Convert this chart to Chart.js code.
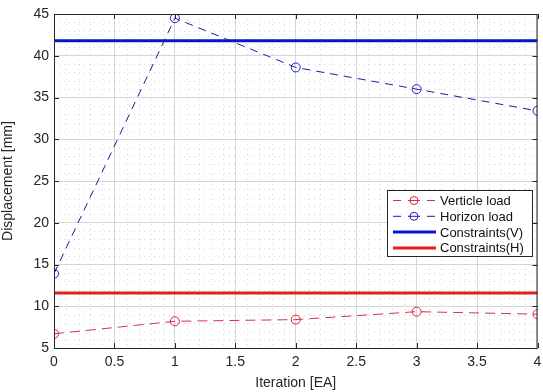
<!DOCTYPE html>
<html>
<head>
<meta charset="utf-8">
<script src="https://cdn.jsdelivr.net/npm/chart.js@4.4.1/dist/chart.umd.min.js"></script>
<style>
  html, body { margin: 0; padding: 0; background: #fff; }
  #wrap { width: 543px; height: 392px; position: relative; }
</style>
</head>
<body>
<div id="wrap"><canvas id="dispChart"></canvas></div>
<script>
const ITERATIONS = [0, 1, 2, 3, 4];
const VERTICLE_LOAD = [6.7, 8.2, 8.4, 9.35, 9.05];
const HORIZON_LOAD = [13.9, 44.5, 38.6, 36.0, 33.4];
const CONSTRAINT_V = 41.8;
const CONSTRAINT_H = 11.6;
const X_TICKS = [0, 0.5, 1, 1.5, 2, 2.5, 3, 3.5, 4];
const Y_TICKS = [5, 10, 15, 20, 25, 30, 35, 40, 45];

const toPoints = (xs, ys) => xs.map((x, i) => ({ x: x, y: ys[i] }));
const flatLine = val => [{ x: ITERATIONS[0], y: val }, { x: ITERATIONS[ITERATIONS.length - 1], y: val }];

// minor dotted grid + inward ticks + box, matlab style
const boxPlugin = {
    id: 'matlabBox',
    beforeDatasetsDraw(chart) {
        const { ctx, chartArea: a, scales: { x, y } } = chart;
        ctx.save();
        ctx.strokeStyle = 'rgba(140,140,140,0.35)';
        ctx.lineWidth = 1;
        ctx.setLineDash([1, 4]);
        for (let v = 0; v <= 40; v++) {
            if (v % 5 === 0) continue;
            const px = Math.round(x.getPixelForValue(v / 10)) + 0.5;
            ctx.beginPath(); ctx.moveTo(px, a.top); ctx.lineTo(px, a.bottom); ctx.stroke();
        }
        for (let v = 5; v <= 45; v++) {
            if (v % 5 === 0) continue;
            const py = Math.round(y.getPixelForValue(v)) + 0.5;
            ctx.beginPath(); ctx.moveTo(a.left, py); ctx.lineTo(a.right, py); ctx.stroke();
        }
        ctx.restore();
    },
    afterDraw(chart) {
        const { ctx, chartArea: a, scales: { x, y } } = chart;
        ctx.save();
        ctx.strokeStyle = '#262626';
        ctx.lineWidth = 1;
        ctx.strokeRect(a.left + 0.5, a.top + 0.5, a.right - a.left - 1, a.bottom - a.top);
        const t = 5;
        X_TICKS.forEach(v => {
            const px = Math.round(x.getPixelForValue(v)) + 0.5;
            ctx.beginPath();
            ctx.moveTo(px, a.bottom); ctx.lineTo(px, a.bottom - t);
            ctx.moveTo(px, a.top); ctx.lineTo(px, a.top + t);
            ctx.stroke();
        });
        Y_TICKS.forEach(v => {
            const py = Math.round(y.getPixelForValue(v)) + 0.5;
            ctx.beginPath();
            ctx.moveTo(a.left, py); ctx.lineTo(a.left + t, py);
            ctx.moveTo(a.right, py); ctx.lineTo(a.right - t, py);
            ctx.stroke();
        });

        // legend box
        const lx = 387, ly = 190, lw = 145, lh = 66;
        ctx.fillStyle = '#fff';
        ctx.fillRect(lx, ly, lw, lh);
        ctx.strokeStyle = '#262626';
        ctx.strokeRect(lx + 0.5, ly + 0.5, lw, lh);
        ctx.font = '13px "Liberation Sans", Arial, sans-serif';
        ctx.textBaseline = 'middle';
        chart.data.datasets.forEach((ds, i) => {
            const cy = ly + 10.5 + i * 15.8;
            ctx.strokeStyle = ds.borderColor;
            ctx.lineWidth = ds.borderWidth;
            if (ds.borderDash && ds.borderDash.length) {
                ctx.beginPath();
                ctx.moveTo(lx + 6, cy); ctx.lineTo(lx + 14, cy);
                ctx.moveTo(lx + 40, cy); ctx.lineTo(lx + 48, cy);
                ctx.moveTo(lx + 21, cy); ctx.lineTo(lx + 33, cy);
                ctx.stroke();
                ctx.beginPath();
                ctx.arc(lx + 27, cy, 4, 0, Math.PI * 2);
                ctx.strokeStyle = ds.pointBorderColor;
                ctx.stroke();
            } else {
                ctx.beginPath();
                ctx.moveTo(lx + 6, cy); ctx.lineTo(lx + 49, cy);
                ctx.stroke();
            }
            ctx.fillStyle = '#111';
            ctx.fillText(ds.label, lx + 53, cy + 1);
        });
        ctx.restore();
    }
};

new Chart(document.getElementById('dispChart').getContext('2d'), {
    type: 'scatter',
    data: {
        datasets: [
            {
                label: 'Verticle load',
                data: toPoints(ITERATIONS, VERTICLE_LOAD),
                showLine: true,
                borderColor: '#d8304c',
                pointBorderColor: '#e0203c',
                borderWidth: 1,
                borderDash: [10, 6],
                pointRadius: 4.5,
                pointBorderWidth: 1,
                pointBackgroundColor: 'rgba(0,0,0,0)'
            },
            {
                label: 'Horizon load',
                data: toPoints(ITERATIONS, HORIZON_LOAD),
                showLine: true,
                borderColor: '#1c1c9c',
                pointBorderColor: '#2020c8',
                borderWidth: 1,
                borderDash: [8, 6],
                pointRadius: 4.5,
                pointBorderWidth: 1,
                pointBackgroundColor: 'rgba(0,0,0,0)'
            },
            {
                label: 'Constraints(V)',
                data: flatLine(CONSTRAINT_V),
                showLine: true,
                borderColor: '#0a14c8',
                borderWidth: 3,
                pointRadius: 0
            },
            {
                label: 'Constraints(H)',
                data: flatLine(CONSTRAINT_H),
                showLine: true,
                borderColor: '#e21e1e',
                borderWidth: 3,
                pointRadius: 0
            }
        ]
    },
    options: {
        responsive: true,
        maintainAspectRatio: false,
        animation: false,
        layout: { padding: { top: 14, right: 2, left: 0, bottom: 0 } },
        plugins: {
            legend: { display: false },
            tooltip: { enabled: false }
        },
        scales: {
            x: {
                type: 'linear',
                min: 0,
                max: 4,
                afterBuildTicks: s => { s.ticks = X_TICKS.map(v => ({ value: v })); },
                afterFit: s => { s.height = 44; s.paddingLeft = 0; s.paddingRight = 0; },
                ticks: {
                    callback: v => String(v),
                    color: '#262626',
                    padding: 6,
                    maxRotation: 0,
                    font: { family: '"Liberation Sans", Arial, sans-serif', size: 14 }
                },
                grid: { color: '#d6d6d6', drawTicks: false },
                border: { display: false },
                title: {
                    display: true,
                    text: 'Iteration [EA]',
                    color: '#262626',
                    padding: { top: 3, bottom: 0 },
                    font: { family: '"Liberation Sans", Arial, sans-serif', size: 14 }
                }
            },
            y: {
                min: 5,
                max: 45,
                afterBuildTicks: s => { s.ticks = Y_TICKS.map(v => ({ value: v })); },
                afterFit: s => { s.width = 54; },
                ticks: {
                    color: '#262626',
                    padding: 5,
                    font: { family: '"Liberation Sans", Arial, sans-serif', size: 14 }
                },
                grid: { color: '#d6d6d6', drawTicks: false },
                border: { display: false },
                title: {
                    display: true,
                    text: 'Displacement [mm]',
                    color: '#262626',
                    padding: { top: 0, bottom: 2 },
                    font: { family: '"Liberation Sans", Arial, sans-serif', size: 14 }
                }
            }
        }
    },
    plugins: [boxPlugin]
});
</script>
</body>
</html>
